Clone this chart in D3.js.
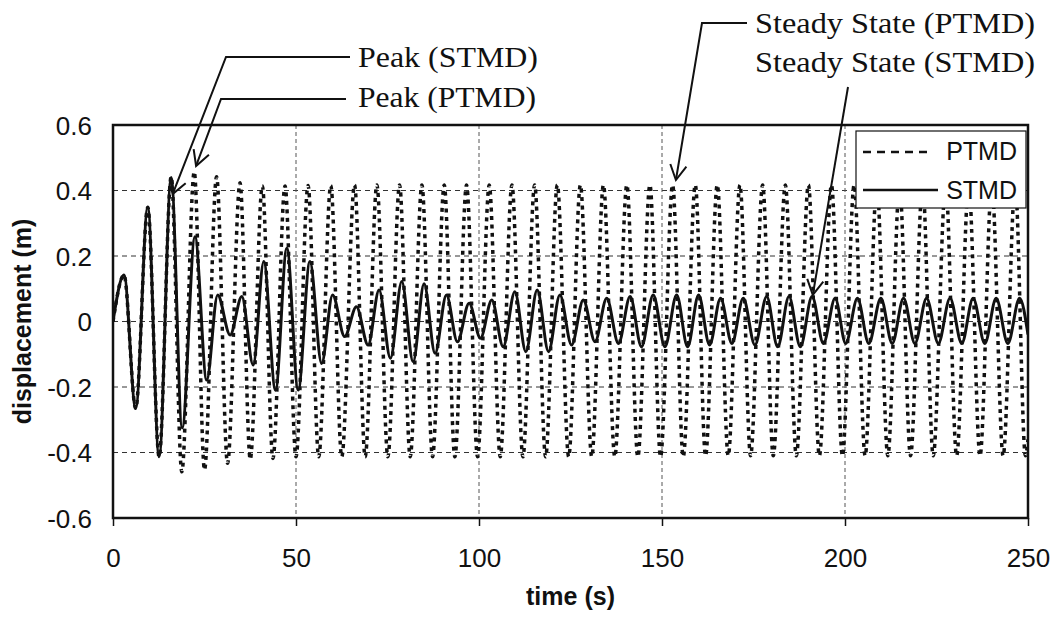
<!DOCTYPE html>
<html>
<head>
<meta charset="utf-8">
<script src="https://cdn.jsdelivr.net/npm/d3@7"></script>
<style>
  body { margin: 0; background: #fff; }
  text { fill: #111; }
</style>
</head>
<body>
<svg id="chart" width="1057" height="618"></svg>
<script>
// axis ticks
const xTicks = [0, 50, 100, 150, 200, 250];
const yTicks = [-0.6, -0.4, -0.2, 0, 0.2, 0.4, 0.6];

// PTMD response, turning points (time s, displacement m)
const ptmdTime = [0, 3.0, 6.2, 9.5, 12.6, 15.9, 18.8, 22.2, 25.0, 28.3, 31.3, 34.7, 37.5, 40.8, 43.7, 47.0,
  50.0, 53.3, 56.2, 59.5, 62.5, 66.0, 68.9, 72.1, 75.1, 78.3, 81.2, 84.4, 87.3, 90.5, 93.4, 96.6,
  99.6, 102.8, 105.8, 109.0, 112.0, 115.2, 118.2, 121.4, 124.5, 127.7, 130.8, 134.0, 137.1, 140.4,
  143.4, 146.7, 149.6, 152.9, 155.8, 159.1, 161.9, 165.1, 168.1, 171.3, 174.2, 177.5, 180.4, 183.7,
  186.7, 190.0, 193.0, 196.3, 199.3, 202.5, 205.5, 208.7, 211.7, 214.9, 217.9, 221.2, 224.1, 227.5,
  230.5, 233.8, 236.9, 240.1, 243.2, 246.5, 249.3, 250];
const ptmdDisp = [0, 0.142, -0.265, 0.349, -0.413, 0.442, -0.459, 0.457, -0.453, 0.442, -0.433, 0.424, -0.421, 0.414, -0.418, 0.414,
  -0.413, 0.415, -0.413, 0.415, -0.413, 0.417, -0.413, 0.417, -0.413, 0.417, -0.413, 0.417, -0.413, 0.417, -0.413, 0.417,
  -0.413, 0.417, -0.413, 0.417, -0.413, 0.417, -0.413, 0.417, -0.413, 0.417, -0.413, 0.417, -0.413, 0.417,
  -0.413, 0.417, -0.413, 0.417, -0.413, 0.417, -0.41, 0.417, -0.41, 0.417, -0.41, 0.417, -0.41, 0.417,
  -0.41, 0.417, -0.41, 0.417, -0.41, 0.417, -0.41, 0.417, -0.41, 0.417, -0.41, 0.417, -0.41, 0.417,
  -0.41, 0.417, -0.41, 0.417, -0.41, 0.417, -0.41, -0.36];

// STMD response
const stmdTime = [0, 3.0, 6.2, 9.5, 12.6, 15.9, 18.9, 22.4, 25.6, 28.6, 32.0, 35.2, 38.3, 41.2, 44.4, 47.5,
  50.6, 53.8, 57.0, 60.0, 63.3, 66.5, 69.7, 72.7, 75.8, 78.9, 82.0, 85.0, 88.0, 91.1, 94.1, 97.3,
  100.4, 103.5, 106.6, 109.8, 112.8, 115.9, 119.0, 122.1, 125.3, 128.5, 131.7, 134.9, 138.1, 141.3,
  144.4, 147.6, 150.8, 154.0, 157.0, 160.0, 163.0, 166.0, 169.1, 172.2, 175.4, 178.6, 181.6, 184.7,
  187.8, 191.0, 194.1, 197.3, 200.2, 203.4, 206.5, 209.8, 212.9, 216.0, 219.1, 222.3, 225.5, 228.7,
  231.9, 235.0, 238.2, 241.3, 244.5, 247.7, 250];
const stmdDisp = [0, 0.142, -0.265, 0.349, -0.413, 0.44, -0.325, 0.259, -0.179, 0.081, -0.041, 0.076, -0.133, 0.183, -0.209, 0.224,
  -0.209, 0.183, -0.128, 0.081, -0.046, 0.045, -0.072, 0.096, -0.112, 0.122, -0.123, 0.115, -0.097, 0.081, -0.062, 0.056,
  -0.051, 0.066, -0.077, 0.091, -0.092, 0.096, -0.092, 0.081, -0.072, 0.066, -0.062, 0.071, -0.067, 0.076,
  -0.077, 0.081, -0.077, 0.081, -0.077, 0.081, -0.072, 0.071, -0.067, 0.071, -0.072, 0.076, -0.077, 0.076,
  -0.077, 0.076, -0.067, 0.071, -0.067, 0.071, -0.067, 0.071, -0.067, 0.071, -0.067, 0.071, -0.067, 0.071,
  -0.067, 0.071, -0.067, 0.071, -0.067, 0.071, -0.04];

// callouts: label, arrow tip (time, displacement)
const callouts = [
  { label: "Peak (STMD)", tip: [16.3, 0.389] },
  { label: "Peak (PTMD)", tip: [22.7, 0.475] },
  { label: "Steady State (PTMD)", tip: [153.8, 0.432] },
  { label: "Steady State (STMD)", tip: [191.2, 0.081] }
];

const width = 1057;
const height = 618;
const margin = { top: 125, right: 29, bottom: 100, left: 113 };
const sans = "'Liberation Sans', Arial, sans-serif";
const serif = "'Liberation Serif', 'Times New Roman', serif";

const svg = d3.select("#chart");

const x = d3.scaleLinear().domain([0, 250]).range([margin.left, width - margin.right]);
const y = d3.scaleLinear().domain([-0.6, 0.6]).range([height - margin.bottom, margin.top]);

// gridlines
svg.append("g")
  .selectAll("line")
  .data(yTicks.filter((d) => Math.abs(d) < 0.6))
  .enter()
  .append("line")
  .attr("x1", x(0))
  .attr("x2", x(250))
  .attr("y1", (d) => y(d))
  .attr("y2", (d) => y(d))
  .attr("stroke", "#333")
  .attr("stroke-width", 1)
  .attr("stroke-dasharray", "5,4");

svg.append("g")
  .selectAll("line")
  .data(xTicks.filter((d) => d > 0 && d < 250))
  .enter()
  .append("line")
  .attr("x1", (d) => x(d))
  .attr("x2", (d) => x(d))
  .attr("y1", y(0.6))
  .attr("y2", y(-0.6))
  .attr("stroke", "#555")
  .attr("stroke-width", 1)
  .attr("stroke-dasharray", "4,3");

// series
svg.append("clipPath")
  .attr("id", "plot-clip")
  .append("rect")
  .attr("x", x(0))
  .attr("y", y(0.6))
  .attr("width", x(250) - x(0))
  .attr("height", y(-0.6) - y(0.6));

const line = d3.line()
  .x((d) => x(d[0]))
  .y((d) => y(d[1]))
  .curve(d3.curveMonotoneX);

const ptmd = ptmdTime.map((t, i) => [t, ptmdDisp[i]]);
const stmd = stmdTime.map((t, i) => [t, stmdDisp[i]]);

const plot = svg.append("g").attr("clip-path", "url(#plot-clip)");

plot.append("path")
  .datum(ptmd)
  .attr("d", line)
  .attr("fill", "none")
  .attr("stroke", "#111")
  .attr("stroke-width", 3.5)
  .attr("stroke-dasharray", "4,4.5");

plot.append("path")
  .datum(stmd)
  .attr("d", line)
  .attr("fill", "none")
  .attr("stroke", "#111")
  .attr("stroke-width", 3);

// frame
svg.append("rect")
  .attr("x", x(0))
  .attr("y", y(0.6))
  .attr("width", x(250) - x(0))
  .attr("height", y(-0.6) - y(0.6))
  .attr("fill", "none")
  .attr("stroke", "#111")
  .attr("stroke-width", 2.5);

// axes
const xAxis = svg.append("g")
  .attr("transform", `translate(0, ${y(-0.6)})`)
  .call(d3.axisBottom(x).tickValues(xTicks).tickSize(8).tickFormat(d3.format("d")));
xAxis.select(".domain").remove();
xAxis.selectAll(".tick line").attr("stroke", "#111").attr("stroke-width", 1.5);
xAxis.selectAll("text")
  .attr("dy", null)
  .attr("y", 49)
  .style("font-family", sans)
  .style("font-size", "26px");

const yAxis = svg.append("g")
  .attr("transform", `translate(${x(0)}, 0)`)
  .call(d3.axisLeft(y).tickValues(yTicks).tickSize(0).tickPadding(21)
    .tickFormat((d) => (d === 0 ? "0" : d.toFixed(1))));
yAxis.select(".domain").remove();
yAxis.selectAll("text")
  .attr("dy", "0.36em")
  .style("font-family", sans)
  .style("font-size", "26px");

// axis titles
svg.append("text")
  .attr("x", (x(0) + x(250)) / 2)
  .attr("y", 605)
  .attr("text-anchor", "middle")
  .style("font-family", sans)
  .style("font-size", "25px")
  .style("font-weight", "bold")
  .text("time (s)");

svg.append("text")
  .attr("transform", `translate(31, ${(y(0.6) + y(-0.6)) / 2}) rotate(-90)`)
  .attr("text-anchor", "middle")
  .style("font-family", sans)
  .style("font-size", "25px")
  .style("font-weight", "bold")
  .text("displacement (m)");

// legend
const legend = svg.append("g");
legend.append("rect")
  .attr("x", 856)
  .attr("y", 131)
  .attr("width", 170)
  .attr("height", 77)
  .attr("fill", "#fff")
  .attr("stroke", "#111")
  .attr("stroke-width", 1.2);
legend.append("line")
  .attr("x1", 863).attr("x2", 933).attr("y1", 152).attr("y2", 152)
  .attr("stroke", "#111").attr("stroke-width", 2.5).attr("stroke-dasharray", "8,6");
legend.append("line")
  .attr("x1", 863).attr("x2", 938).attr("y1", 190).attr("y2", 190)
  .attr("stroke", "#111").attr("stroke-width", 2.5);
legend.append("text")
  .attr("x", 1017).attr("y", 160).attr("text-anchor", "end")
  .style("font-family", sans).style("font-size", "25px")
  .text("PTMD");
legend.append("text")
  .attr("x", 1017).attr("y", 199).attr("text-anchor", "end")
  .style("font-family", sans).style("font-size", "25px")
  .text("STMD");

// callouts
const calloutLayout = [
  { tx: 358, ty: 67, len: 180, path: [[350, 57], [226, 57]] },
  { tx: 358, ty: 107, len: 178, path: [[346, 99], [221, 99]] },
  { tx: 755, ty: 33, len: 280, path: [[747, 23], [702, 23]] },
  { tx: 755, ty: 72, len: 280, path: [[848, 87]] }
];

const ann = svg.append("g");
callouts.forEach((c, i) => {
  const lay = calloutLayout[i];
  const tip = [x(c.tip[0]), y(c.tip[1])];
  const pts = lay.path.concat([tip]);
  ann.append("path")
    .attr("d", d3.line()(pts))
    .attr("fill", "none")
    .attr("stroke", "#111")
    .attr("stroke-width", 2);

  const prev = pts[pts.length - 2];
  const ang = Math.atan2(tip[1] - prev[1], tip[0] - prev[0]);
  const head = 17;
  const spread = 0.5;
  const barbs = [
    [tip[0] - head * Math.cos(ang - spread), tip[1] - head * Math.sin(ang - spread)],
    tip,
    [tip[0] - head * Math.cos(ang + spread), tip[1] - head * Math.sin(ang + spread)]
  ];
  ann.append("path")
    .attr("d", d3.line()(barbs))
    .attr("fill", "none")
    .attr("stroke", "#111")
    .attr("stroke-width", 2);

  ann.append("text")
    .attr("x", lay.tx)
    .attr("y", lay.ty)
    .attr("textLength", lay.len)
    .attr("lengthAdjust", "spacingAndGlyphs")
    .style("font-family", serif)
    .style("font-size", "29px")
    .text(c.label);
});
</script>
</body>
</html>
